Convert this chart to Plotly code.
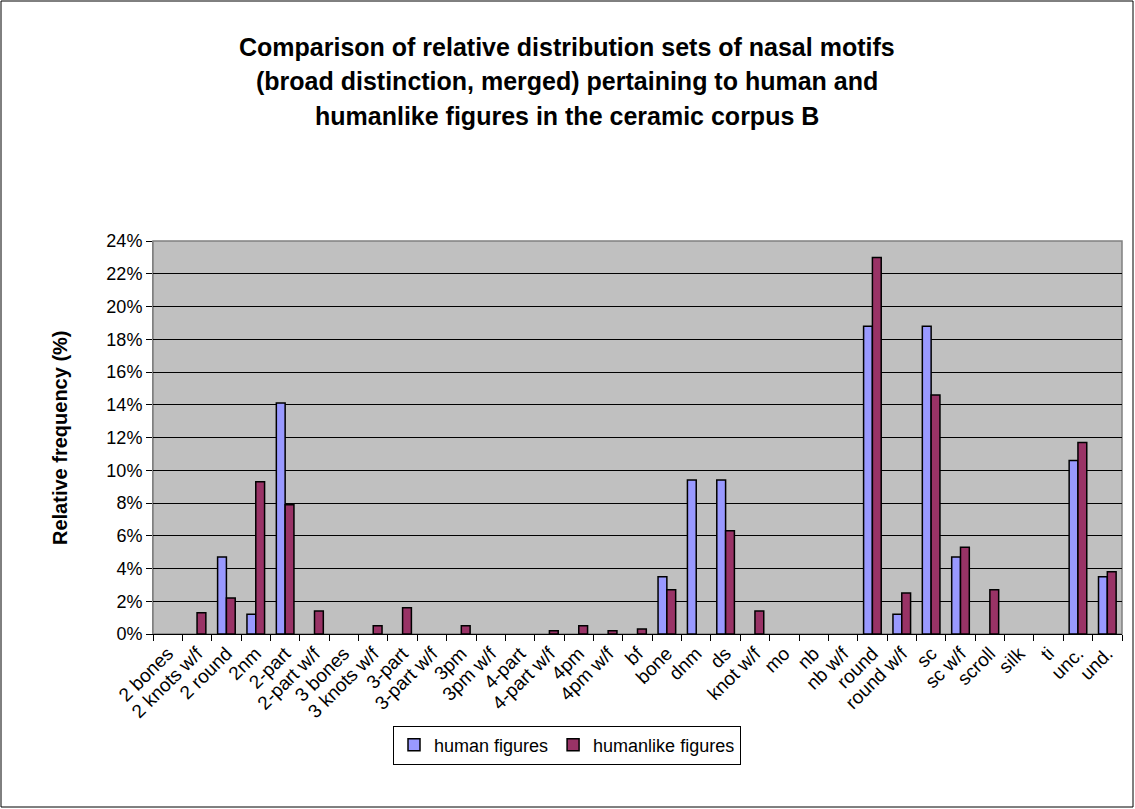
import plotly.graph_objects as go

# nasal motif categories and relative frequencies (fractions)
categories = ["2 bones", "2 knots w/f", "2 round", "2nm", "2-part", "2-part w/f",
              "3 bones", "3 knots w/f", "3-part", "3-part w/f", "3pm", "3pm w/f",
              "4-part", "4-part w/f", "4pm", "4pm w/f", "bf", "bone", "dnm", "ds",
              "knot w/f", "mo", "nb", "nb w/f", "round", "round w/f", "sc", "sc w/f",
              "scroll", "silk", "ti", "unc.", "und."]
human = [0, 0, 0.047, 0.012, 0.141, 0, 0, 0, 0, 0, 0, 0, 0, 0, 0, 0, 0,
         0.035, 0.094, 0.094, 0, 0, 0, 0, 0.188, 0.012, 0.188, 0.047, 0, 0, 0,
         0.106, 0.035]
humanlike = [0, 0.013, 0.022, 0.093, 0.079, 0.014, 0, 0.005, 0.016, 0, 0.005, 0,
             0, 0.002, 0.005, 0.002, 0.003, 0.027, 0, 0.063, 0.014, 0, 0, 0,
             0.230, 0.025, 0.146, 0.053, 0.027, 0, 0, 0.117, 0.038]
series_names = ["human figures", "humanlike figures"]
title_lines = ["Comparison of relative distribution sets of nasal motifs",
               "(broad distinction, merged) pertaining to human and",
               "humanlike figures in the ceramic corpus B"]

W, H = 1135, 809
L, R, T, B = 153, 1122, 241, 634   # plot area in pixels


def px(x):
    return (x - L) / (R - L)


def py(y):
    return (B - y) / (B - T)


def hide_zero(vals):
    # Excel draws nothing for empty cells, so no outline at zero
    return [v if v else None for v in vals]


FONT = "Liberation Sans, Arial, sans-serif"

fig = go.Figure()
fig.add_trace(go.Bar(x=categories, y=hide_zero(human), name=series_names[0],
                     marker=dict(color="#9999FF", line=dict(color="black", width=1.5))))
fig.add_trace(go.Bar(x=categories, y=hide_zero(humanlike), name=series_names[1],
                     marker=dict(color="#993366", line=dict(color="black", width=1.5))))

# title, three lines spaced like the original
for i, line in enumerate(title_lines):
    fig.add_annotation(text="<b>" + line + "</b>", x=px(567), y=py(47 + 34.5 * i),
                       xref="paper", yref="paper", showarrow=False,
                       xanchor="center", yanchor="middle",
                       font=dict(family=FONT, size=25, color="black"))

fig.add_annotation(text="<b>Relative frequency (%)</b>", x=px(60), y=py(438),
                   xref="paper", yref="paper", showarrow=False, textangle=-90,
                   xanchor="center", yanchor="middle",
                   font=dict(family=FONT, size=20, color="black"))

# chart border and plot-area border
fig.add_shape(type="rect", xref="paper", yref="paper",
              x0=px(1), x1=px(W - 2), y0=py(H - 2), y1=py(1),
              line=dict(color="black", width=1), layer="above")
fig.add_shape(type="rect", xref="paper", yref="paper", x0=0, x1=1, y0=0, y1=1,
              line=dict(color="#808080", width=1.5), layer="below")

fig.update_layout(
    width=W, height=H,
    margin=dict(l=L, r=W - R, t=T, b=H - B),
    paper_bgcolor="white", plot_bgcolor="#C0C0C0",
    barmode="group", bargap=0.4, bargroupgap=0,
    font=dict(family=FONT, size=15, color="black"),
    showlegend=True,
    legend=dict(orientation="h", x=px(567), xanchor="center",
                y=py(745), yanchor="middle", bordercolor="black", borderwidth=1,
                bgcolor="white", font=dict(size=18), traceorder="normal",
                itemwidth=30),
)
fig.update_xaxes(tickangle=-45, tickson="boundaries", ticks="outside", ticklen=6,
                 tickcolor="black", showline=True, linecolor="black",
                 showgrid=False, tickfont=dict(size=19))
fig.update_yaxes(range=[0, 0.24], dtick=0.02, tickformat=".0%", ticks="outside",
                 ticklen=6, tickcolor="black", showline=True, linecolor="#808080",
                 gridcolor="black", gridwidth=1, zeroline=False,
                 tickfont=dict(size=18))

fig.write_html("out.html", post_script="document.body.style.margin='0';",
               config={"displayModeBar": False})
